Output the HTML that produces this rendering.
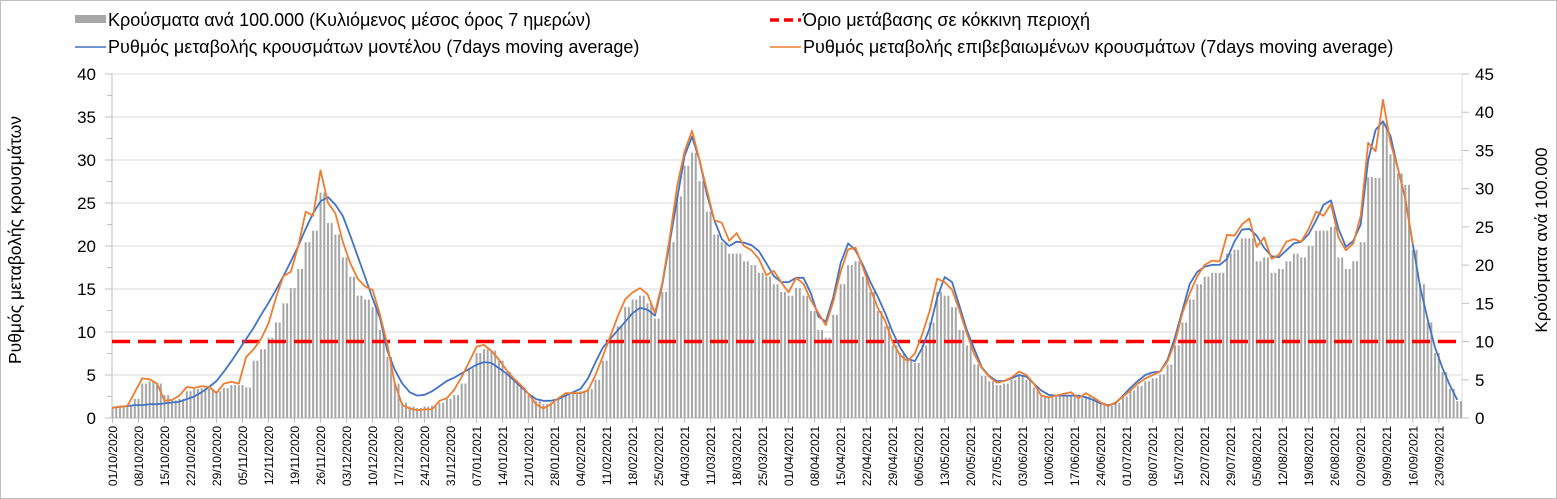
<!DOCTYPE html>
<html><head><meta charset="utf-8"><style>
body{margin:0;background:#fff;}
#wrap{position:relative;width:1557px;height:499px;overflow:hidden;font-family:"Liberation Sans",Arial,sans-serif;}
svg text{font-family:"Liberation Sans",Arial,sans-serif;}
</style></head><body>
<div id="wrap">
<svg id="chart" width="1557" height="499"></svg>
</div>
<script>
// ---- data (every 2 days starting 01/10/2020) ----
const stepDays = 2;
const startDate = [2020, 9, 1];
const caseBars = [1.3,1.4,1.5,2.5,4.5,4.8,4.5,3.0,2.3,2.5,
3.5,3.8,3.9,3.8,3.5,3.9,4.3,4.3,4.0,7.5,
9.0,10.5,12.5,15.0,17.0,19.5,23.0,24.5,29.5,25.5,
24.0,21.0,18.5,16.0,15.5,14.5,11.5,8.0,4.5,2.0,
1.5,1.3,1.5,1.6,2.0,2.5,3.0,4.5,6.5,8.5,
9.0,8.8,7.5,6.0,4.8,4.0,3.0,2.2,1.8,2.0,
2.6,3.0,3.3,3.5,3.8,5.0,7.5,10.0,12.0,14.5,
15.5,16.0,15.0,13.0,16.5,23.0,29.0,33.0,34.7,31.0,
27.0,24.0,23.0,21.5,21.5,20.5,20.0,19.0,18.5,17.5,
16.5,16.0,17.0,16.0,14.0,11.5,10.5,13.5,17.5,20.0,
20.5,18.5,16.5,14.0,12.0,9.5,8.5,7.5,7.2,9.5,
12.5,16.5,16.0,14.5,11.5,9.5,7.0,5.5,4.8,4.3,
4.5,5.0,5.5,5.0,4.0,2.8,2.7,2.8,3.0,3.0,
2.6,2.9,2.5,2.0,1.6,2.0,2.8,3.6,4.2,4.8,
5.2,5.7,7.0,9.5,12.5,15.5,17.5,18.5,19.0,19.0,
21.5,22.0,23.5,23.5,20.5,21.0,19.0,19.5,20.5,21.5,
21.0,22.5,24.5,24.5,25.0,21.0,19.5,20.5,23.0,31.5,
31.4,38.6,34.5,32.0,30.5,22.0,17.5,12.5,8.5,6.0,3.8,2.2];
const modelRate = [1.2,1.3,1.4,1.5,1.5,1.6,1.6,1.7,1.8,1.9,
2.2,2.5,3.0,3.6,4.3,5.4,6.6,7.9,9.2,10.5,
12.0,13.4,14.9,16.5,18.2,20.0,22.0,23.8,25.2,25.7,
24.8,23.5,21.2,18.8,16.4,13.9,11.6,7.8,5.6,4.0,
3.0,2.6,2.7,3.1,3.7,4.3,4.7,5.2,5.7,6.2,
6.5,6.4,5.8,5.2,4.4,3.6,2.8,2.2,2.0,2.0,
2.2,2.6,3.0,3.4,4.6,6.5,8.2,9.2,10.2,11.2,
12.2,12.8,12.6,11.9,15.5,20.5,25.5,30.5,32.7,30.0,
26.0,23.0,20.8,20.0,20.5,20.4,20.1,19.4,18.0,16.5,
15.8,15.8,16.3,16.3,14.5,11.8,11.2,14.0,18.0,20.3,
19.5,17.8,15.8,14.1,12.2,10.0,8.2,6.9,6.6,8.2,
10.5,14.0,16.4,15.8,13.0,10.2,8.0,5.9,4.9,4.3,
4.3,4.6,5.0,4.8,4.0,3.2,2.7,2.6,2.6,2.6,
2.6,2.4,2.1,1.7,1.5,1.7,2.6,3.5,4.3,5.0,
5.3,5.4,6.8,9.4,12.5,15.6,17.0,17.6,17.8,17.8,
18.5,20.5,21.9,22.0,21.2,19.8,18.8,18.7,19.5,20.3,
20.5,21.4,23.0,24.8,25.3,22.0,19.9,20.6,22.5,30.0,
33.5,34.5,32.8,29.0,25.5,20.2,15.2,11.5,8.2,5.8,3.8,2.1];
const confirmedRate = [1.2,1.3,1.4,3.0,4.6,4.5,4.0,2.0,2.1,2.6,
3.6,3.5,3.7,3.6,2.9,4.0,4.2,4.0,7.1,8.0,
9.2,11.0,14.0,16.5,17.0,20.0,24.0,23.5,28.8,25.0,
23.8,20.5,18.0,16.2,15.3,14.9,12.0,8.5,4.0,1.5,
1.1,0.9,1.0,1.0,2.0,2.3,3.3,4.8,6.5,8.3,
8.5,7.8,6.8,5.6,4.6,3.8,2.8,1.6,1.1,1.6,
2.3,2.9,2.9,2.9,3.2,5.0,7.2,9.5,11.8,13.8,
14.6,15.1,14.4,12.2,15.7,21.0,27.0,31.0,33.4,30.0,
26.5,23.0,22.7,20.6,21.5,20.0,19.5,18.5,16.6,17.1,
15.8,14.6,16.3,15.6,13.7,12.2,10.8,13.5,17.0,19.6,
19.8,17.5,15.0,12.8,11.3,8.8,7.3,6.6,7.5,9.8,
12.5,16.2,15.8,14.9,12.5,9.8,7.4,5.8,4.8,4.1,
4.3,4.7,5.4,5.0,4.0,2.6,2.4,2.6,2.8,3.0,
2.3,2.9,2.4,1.8,1.4,1.8,2.5,3.2,4.0,4.6,
5.0,5.4,6.6,8.8,12.2,14.5,16.5,17.8,18.3,18.2,
21.3,21.2,22.5,23.2,19.9,21.0,18.5,19.0,20.5,20.8,
20.5,22.0,24.0,23.5,24.9,21.0,19.5,20.3,23.5,32.0,
31.0,37.0,32.0,29.0,25.5,20.2];
const thresholdRight = 10;
const leftTicks = [0,5,10,15,20,25,30,35,40];
const rightTicks = [0,5,10,15,20,25,30,35,40,45];
const dateLabelCount = 52;

// ---- axes ----
const X0 = 112.5, DAYPX = 3.715, Y0 = 418, TOP = 74;
const xDay = d => X0 + d * DAYPX;
const yL = v => Y0 - v * (Y0 - TOP) / 40;
const yR = v => Y0 - v * (Y0 - TOP) / 45;
const NS = 'http://www.w3.org/2000/svg';
const svg = document.getElementById('chart');
function mk(tag, attrs, parent) {
  const e = document.createElementNS(NS, tag);
  for (const k in attrs) e.setAttribute(k, attrs[k]);
  (parent || svg).appendChild(e);
  return e;
}
mk('rect', {x:0.5, y:0.5, width:1556, height:498, fill:'#fff', stroke:'#bfbfbf'});

const grid = mk('g', {});


leftTicks.forEach(t => {
  mk('line', {x1:112, x2:1462, y1:yL(t), y2:yL(t), stroke:'#d9d9d9', 'stroke-width':1}, grid);
  const lb = mk('text', {x:96, y:yL(t) + 6, 'text-anchor':'end', 'font-size':17, fill:'#000'});
  lb.textContent = t;
  
  
  mk('line', {x1:105, x2:112, y1:yL(t), y2:yL(t), stroke:'#bfbfbf'});
  mk('line', {x1:107, x2:112, y1:yL(t + 2.5), y2:yL(t + 2.5), stroke:'#bfbfbf'});
});
rightTicks.forEach(t => {
  mk('line', {x1:1462, x2:1469, y1:yR(t), y2:yR(t), stroke:'#bfbfbf'});
  const lb = mk('text', {x:1475, y:yR(t) + 6, 'text-anchor':'start', 'font-size':17, fill:'#000'});
  lb.textContent = t;
  
  
});
mk('line', {x1:112, x2:112, y1:TOP, y2:Y0, stroke:'#bfbfbf'});
mk('line', {x1:1462, x2:1462, y1:TOP, y2:Y0, stroke:'#d9d9d9'});
mk('line', {x1:112, x2:1462, y1:Y0, y2:Y0, stroke:'#bfbfbf'});

// bars (each value covers stepDays daily bars)
const bars = mk('g', {});


caseBars.forEach((v, i) => {
  for (let k = 0; k < stepDays; k++) {
    const d = i * stepDays + k;
    const r = mk('rect', {x:xDay(d) - 1, y:yR(v), width:2, height:Y0 - yR(v), fill:'#a6a6a6'}, bars);
    
    
  }
});

// threshold
const thr = mk('line', {x1:112, x2:1462, y1:yR(thresholdRight), y2:yR(thresholdRight), stroke:'#ff0000', 'stroke-width':3.5, 'stroke-dasharray':'18 8'});



function line(arr, color, name) {
  const p = arr.map((v, i) => (i ? 'L' : 'M') + xDay(i * stepDays).toFixed(1) + ' ' + yL(v).toFixed(1)).join(' ');
  const e = mk('path', {d:p, fill:'none', stroke:color, 'stroke-width':1.8, 'stroke-linejoin':'round'});
  
  
}
line(modelRate, '#4472c4', 'model-rate-line');
line(confirmedRate, '#ed7d31', 'confirmed-rate-line');

// date labels
const xl = mk('g', {});


const pad = n => (n < 10 ? '0' : '') + n;
for (let w = 0; w < dateLabelCount; w++) {
  const dt = new Date(Date.UTC(startDate[0], startDate[1], startDate[2] + w * 7));
  const s = pad(dt.getUTCDate()) + '/' + pad(dt.getUTCMonth() + 1) + '/' + dt.getUTCFullYear();
  const x = xDay(w * 7);
  mk('line', {x1:x, x2:x, y1:Y0, y2:Y0 + 5, stroke:'#bfbfbf'}, xl);
  const t = mk('text', {x:0, y:0, 'text-anchor':'end', 'font-size':12, fill:'#000', transform:'translate(' + (x + 4.5) + ',426) rotate(-90)'}, xl);
  t.textContent = s;
  
  
}

// axis titles
const lt = mk('text', {x:0, y:0, 'text-anchor':'middle', 'font-size':17.5, transform:'translate(21,240) rotate(-90)'});
lt.textContent = 'Ρυθμός μεταβολής κρουσμάτων';


const rt = mk('text', {x:0, y:0, 'text-anchor':'middle', 'font-size':17, transform:'translate(1547,240) rotate(-90)'});
rt.textContent = 'Κρούσματα ανά 100.000';



// legend
function leg(x, y, kind, color, label, name) {
  const g = mk('g', {});
  
  
  if (kind === 'bar') mk('rect', {x:x, y:y - 11, width:31, height:8, fill:'#a6a6a6'}, g);
  else if (kind === 'dash') mk('line', {x1:x, x2:x + 31, y1:y - 6, y2:y - 6, stroke:color, 'stroke-width':3.5, 'stroke-dasharray':'9 5'}, g);
  else mk('line', {x1:x, x2:x + 31, y1:y - 6, y2:y - 6, stroke:color, 'stroke-width':1.5}, g);
  const t = mk('text', {x:x + 33, y:y, 'font-size':18, fill:'#000'}, g);
  t.textContent = label;
}
leg(75, 26, 'bar', '#a6a6a6', 'Κρούσματα ανά 100.000 (Κυλιόμενος μέσος όρος 7 ημερών)', 'legend-cases');
leg(770, 26, 'dash', '#ff0000', 'Όριο μετάβασης σε κόκκινη περιοχή', 'legend-threshold');
leg(75, 53, 'line', '#4472c4', 'Ρυθμός μεταβολής κρουσμάτων μοντέλου (7days moving average)', 'legend-model');
leg(770, 53, 'line', '#ed7d31', 'Ρυθμός μεταβολής επιβεβαιωμένων κρουσμάτων (7days moving average)', 'legend-confirmed');
</script>
</body></html>
